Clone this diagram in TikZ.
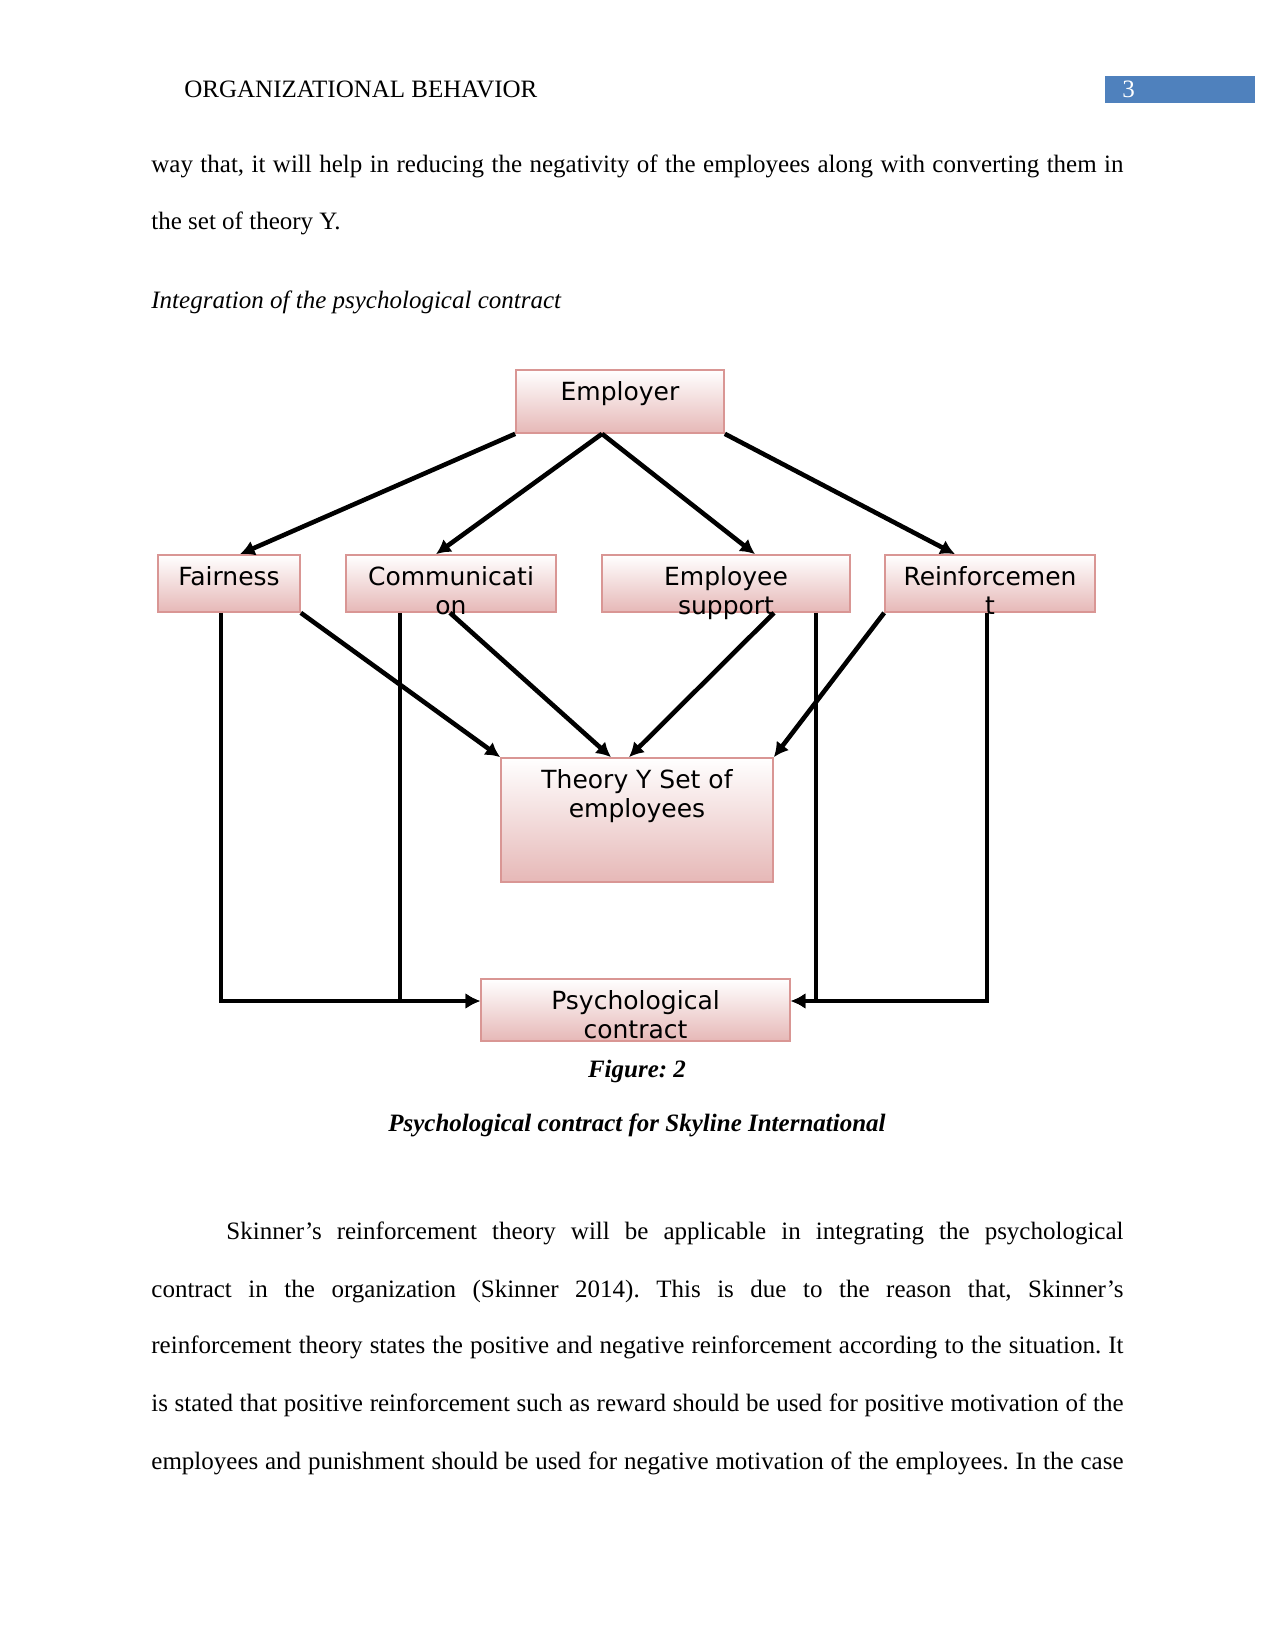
\documentclass[tikz,border=0pt]{standalone}
\usepackage{fontspec}
\setmainfont{Liberation Serif}
\newfontfamily\boxfont{DejaVu Sans}
\usetikzlibrary{arrows.meta, positioning, calc}
\definecolor{pcpink}{HTML}{E6B8B7}
\definecolor{pcedge}{HTML}{D99694}
\definecolor{pcblue}{HTML}{4F81BD}
\frenchspacing
\tikzset{
  >={Latex[length=7pt, width=7.5pt]},
  box/.style={rectangle, draw=pcedge, line width=0.8pt, top color=white, bottom color=pcpink, inner sep=0pt},
  boxtxt/.style={font=\boxfont\fontsize{12}{14.2}\selectfont, align=center, inner sep=0pt, anchor=north},
  flow/.style={->, line width=2.2pt, draw=black},
  bodytxt/.style={anchor=base west, inner sep=0pt, font=\fontsize{12}{14}\selectfont},
  captxt/.style={anchor=base, inner sep=0pt, font=\fontsize{12}{14}\selectfont\bfseries\itshape},
}
\newcommand{\jline}[2]{\makebox[#1][s]{#2}}

\begin{document}
\begin{tikzpicture}[x=0.48pt, y=-0.48pt]
  \useasboundingbox (0,0) rectangle (1275,1651);
  \node[bodytxt] (hdr) at (184,98) {ORGANIZATIONAL BEHAVIOR};
  \node[fill=pcblue, minimum width=72pt, minimum height=12.96pt, anchor=north west, inner sep=0pt] (pgbox) at (1105,76) {};
  \node[bodytxt, text=white] (pgno) at (1122,98) {3};

  \node[bodytxt] (p1a) at (151,173) {\jline{466.6pt}{way that, it will help in reducing the negativity of the employees along with converting them in}};
  \node[bodytxt] (p1b) at (151,230) {the set of theory Y.};
  \node[bodytxt, font=\fontsize{12}{14}\selectfont\itshape] (hd) at (151,309) {Integration of the psychological contract};

  \node[box, minimum width=99.84pt, minimum height=30.24pt] (emp) at (620,401.5) {};
  \node[box, minimum width=68.16pt, minimum height=27.36pt] (fair) at (229,583.5) {};
  \node[box, minimum width=100.8pt, minimum height=27.36pt] (comm) at (451,583.5) {};
  \node[box, minimum width=119.04pt, minimum height=27.36pt] (esup) at (726,583.5) {};
  \node[box, minimum width=100.8pt, minimum height=27.36pt] (reinf) at (990,583.5) {};
  \node[box, minimum width=130.56pt, minimum height=59.52pt] (theo) at (637,820) {};
  \node[box, minimum width=148.32pt, minimum height=29.76pt] (psy) at (635.5,1010) {};

  \node[boxtxt, below=5.5pt of emp.north] (emp-t) {Employer};
  \node[boxtxt, below=5.5pt of fair.north] (fair-t) {Fairness};
  \node[boxtxt, below=5.5pt of comm.north] (comm-t) {Communicati\\on};
  \node[boxtxt, below=5.5pt of esup.north] (esup-t) {Employee\\support};
  \node[boxtxt, below=5.5pt of reinf.north] (reinf-t) {Reinforcemen\\t};
  \node[boxtxt, below=5.5pt of theo.north] (theo-t) {Theory Y Set of\\employees};
  \node[boxtxt, below=5.5pt of psy.north] (psy-t) {Psychological\\contract};

  \draw[flow] (emp.south west) -- ($(fair.north)+(11,0)$);
  \draw[flow] ($(emp.south)+(-18,0)$) -- ($(comm.north)+(-15,0)$);
  \draw[flow] ($(emp.south)+(-18,0)$) -- ($(esup.north)+(29,0)$);
  \draw[flow] (emp.south east) -- ($(reinf.north)+(-35,0)$);
  \draw[flow] (fair.south east) -- (theo.north west);
  \draw[flow] ($(comm.south)+(-1,0)$) -- ($(theo.north)+(-26,0)$);
  \draw[flow] ($(esup.south)+(48,0)$) -- ($(theo.north)+(-8,0)$);
  \draw[flow] (reinf.south west) -- (theo.north east);
  \draw[flow] ($(fair.south)+(-8,0)$) |- ($(psy.west)+(0,-9)$);
  \draw[flow] ($(comm.south)+(-51,0)$) |- ($(psy.west)+(0,-9)$);
  \draw[flow] ($(esup.south)+(90,0)$) |- ($(psy.east)+(0,-9)$);
  \draw[flow] ($(reinf.south)+(-3,0)$) |- ($(psy.east)+(0,-9)$);

  \node[captxt] (fig) at (637,1077) {Figure: 2};
  \node[captxt] (cap) at (637,1131) {Psychological contract for Skyline International};

  \node[bodytxt] (p2a) at (226,1239) {\jline{430.6pt}{Skinner’s reinforcement theory will be applicable in integrating the psychological}};
  \node[bodytxt] (p2b) at (151,1297) {\jline{466.6pt}{contract in the organization (Skinner 2014). This is due to the reason that, Skinner’s}};
  \node[bodytxt] (p2c) at (151,1353) {\jline{466.6pt}{reinforcement theory states the positive and negative reinforcement according to the situation. It}};
  \node[bodytxt] (p2d) at (151,1411) {\jline{466.6pt}{is stated that positive reinforcement such as reward should be used for positive motivation of the}};
  \node[bodytxt] (p2e) at (151,1469) {\jline{466.6pt}{employees and punishment should be used for negative motivation of the employees. In the case}};
\end{tikzpicture}
\end{document}
